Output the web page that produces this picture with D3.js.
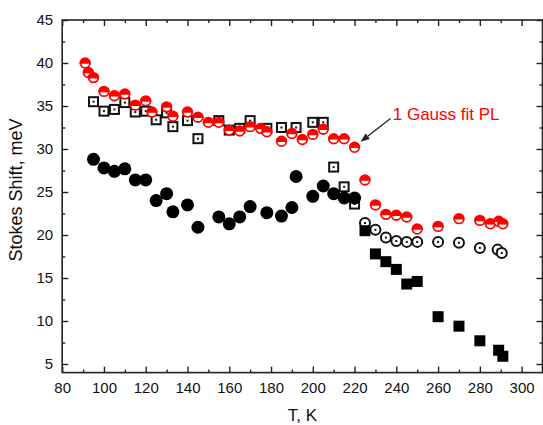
<!DOCTYPE html>
<html>
<head>
<meta charset="utf-8">
<script src="https://cdn.jsdelivr.net/npm/d3@7/dist/d3.min.js"></script>
<style>
  html, body { margin: 0; padding: 0; background: #fff; }
  svg { display: block; font-family: Arial, "Liberation Sans", sans-serif; }
</style>
</head>
<body>
<svg id="chart" width="543" height="425"></svg>
<script>
// Stokes shift vs temperature

// 1 Gauss fit PL (red half-filled circles)
const gaussT = [91, 92.5, 95, 100, 105, 110, 115, 120, 123, 130, 133, 140, 145, 150, 155, 160, 165, 170, 175, 178, 185, 190, 195, 200, 205, 210, 215, 220, 225, 230, 235, 240, 245, 250, 260, 270, 280, 285, 289, 291];
const gaussS = [40.0, 38.9, 38.3, 36.7, 36.2, 36.4, 35.1, 35.6, 34.3, 34.9, 33.8, 34.3, 33.7, 33.1, 33.1, 32.2, 32.1, 32.6, 32.4, 32.0, 30.9, 31.8, 31.1, 31.7, 32.3, 31.2, 31.2, 30.2, 26.4, 23.5, 22.4, 22.3, 22.1, 20.7, 21.0, 21.9, 21.7, 21.3, 21.6, 21.3];

// open squares with centre dot
const openSqT = [95, 100, 105, 110, 115, 120, 125, 130, 133, 140, 145, 155, 160, 165, 170, 178, 185, 192, 200, 205, 210, 215, 220];
const openSqS = [35.5, 34.4, 34.6, 35.4, 34.3, 34.4, 33.4, 34.2, 32.6, 33.3, 31.2, 33.3, 32.2, 32.4, 33.3, 32.4, 32.5, 32.5, 33.1, 33.1, 27.9, 25.6, 23.6];

// filled circles
const fillCircT = [95, 100, 105, 110, 115, 120, 125, 130, 133, 140, 145, 155, 160, 165, 170, 178, 185, 190, 192, 200, 205, 210, 215, 220];
const fillCircS = [28.8, 27.8, 27.4, 27.7, 26.4, 26.4, 24.0, 24.8, 22.7, 23.5, 20.9, 22.1, 21.3, 22.1, 23.3, 22.6, 22.2, 23.2, 26.8, 24.5, 25.7, 24.8, 24.3, 24.3];

// open circles with centre dot
const openCircT = [225, 230, 235, 240, 245, 250, 260, 270, 280, 288.5, 290.5];
const openCircS = [21.4, 20.6, 19.7, 19.3, 19.2, 19.2, 19.2, 19.1, 18.5, 18.3, 17.9];

// filled squares
const fillSqT = [225, 230, 235, 240, 245, 250, 260, 270, 280, 289, 291];
const fillSqS = [20.5, 17.8, 16.9, 16.0, 14.3, 14.6, 10.5, 9.4, 7.7, 6.6, 5.9];

const xMajor = [80, 100, 120, 140, 160, 180, 200, 220, 240, 260, 280, 300];
const yMajor = [5, 10, 15, 20, 25, 30, 35, 40, 45];
const xMinor = [90, 110, 130, 150, 170, 190, 210, 230, 250, 270, 290];
const yMinor = [7.5, 12.5, 17.5, 22.5, 27.5, 32.5, 37.5, 42.5];

const svg = d3.select("#chart");
const plotL = 62.2, plotR = 542.5, plotT = 20, plotB = 372.6;

const x = d3.scaleLinear().domain([80, 310]).range([plotL, plotR]);
const y = d3.scaleLinear().domain([4, 45]).range([plotB, plotT]);

const zip = (a, b) => a.map((v, i) => [v, b[i]]);

// ---- axes: ticks pointing inward on all four sides
const axisStyle = g => {
  g.selectAll(".domain").remove();
  g.selectAll(".tick line").attr("stroke", "#222").attr("stroke-width", 1.4);
  g.selectAll("text").attr("font-size", 15).attr("fill", "#111")
    .attr("font-family", "Arial, 'Liberation Sans', sans-serif");
};

svg.append("g").attr("transform", `translate(0,${plotB})`)
  .call(d3.axisBottom(x).tickValues(xMajor).tickSizeInner(-6).tickSizeOuter(0).tickPadding(10).tickFormat(d3.format("d")))
  .call(axisStyle);
svg.append("g").attr("transform", `translate(0,${plotB})`)
  .call(d3.axisBottom(x).tickValues(xMinor).tickSizeInner(-3).tickSizeOuter(0).tickFormat(""))
  .call(axisStyle);
svg.append("g").attr("transform", `translate(0,${plotT})`)
  .call(d3.axisTop(x).tickValues(xMajor).tickSizeInner(-6).tickSizeOuter(0).tickFormat(""))
  .call(axisStyle);
svg.append("g").attr("transform", `translate(0,${plotT})`)
  .call(d3.axisTop(x).tickValues(xMinor).tickSizeInner(-3).tickSizeOuter(0).tickFormat(""))
  .call(axisStyle);

svg.append("g").attr("transform", `translate(${plotL},0)`)
  .call(d3.axisLeft(y).tickValues(yMajor).tickSizeInner(-6).tickSizeOuter(0).tickPadding(9).tickFormat(d3.format("d")))
  .call(axisStyle);
svg.append("g").attr("transform", `translate(${plotL},0)`)
  .call(d3.axisLeft(y).tickValues(yMinor).tickSizeInner(-3).tickSizeOuter(0).tickFormat(""))
  .call(axisStyle);
svg.append("g").attr("transform", `translate(${plotR},0)`)
  .call(d3.axisRight(y).tickValues(yMajor).tickSizeInner(-6).tickSizeOuter(0).tickFormat(""))
  .call(axisStyle);
svg.append("g").attr("transform", `translate(${plotR},0)`)
  .call(d3.axisRight(y).tickValues(yMinor).tickSizeInner(-3).tickSizeOuter(0).tickFormat(""))
  .call(axisStyle);

// frame
svg.append("rect")
  .attr("x", plotL).attr("y", plotT)
  .attr("width", plotR - plotL).attr("height", plotB - plotT)
  .attr("fill", "none").attr("stroke", "#222").attr("stroke-width", 1.6);

// axis titles
svg.append("text")
  .attr("x", (plotL + plotR) / 2).attr("y", 421)
  .attr("text-anchor", "middle").attr("font-size", 17).attr("fill", "#111")
  .text("T, K");
svg.append("text")
  .attr("transform", "translate(22,190) rotate(-90)")
  .attr("text-anchor", "middle").attr("font-size", 18).attr("fill", "#111")
  .text("Stokes Shift, meV");

const plot = svg.append("g");

// open squares with centre dot
const sqSize = 11;
const osq = plot.selectAll("g.osq").data(zip(openSqT, openSqS)).join("g")
  .attr("transform", d => `translate(${x(d[0])},${y(d[1])})`);
osq.append("rect").attr("x", -sqSize / 2 + 1).attr("y", -sqSize / 2 + 1)
  .attr("width", sqSize - 2).attr("height", sqSize - 2)
  .attr("fill", "#fff").attr("stroke", "#111").attr("stroke-width", 2);
osq.append("rect").attr("x", -1).attr("y", -1).attr("width", 2).attr("height", 2).attr("fill", "#111");

// red half-filled circles
const rr = 5.6;
const red = plot.selectAll("g.red").data(zip(gaussT, gaussS)).join("g")
  .attr("transform", d => `translate(${x(d[0])},${y(d[1])})`);
red.append("circle").attr("r", rr - 0.8).attr("fill", "#fff").attr("stroke", "#f00").attr("stroke-width", 1.8);
red.append("path")
  .attr("d", `M${-rr},0.8 A${rr},${rr} 0 0 1 ${rr},0.8 Z`)
  .attr("fill", "#f00");

// filled circles
plot.selectAll("circle.fc").data(zip(fillCircT, fillCircS)).join("circle")
  .attr("cx", d => x(d[0])).attr("cy", d => y(d[1]))
  .attr("r", 6.5).attr("fill", "#000");

// open circles with centre dot
const oc = plot.selectAll("g.oc").data(zip(openCircT, openCircS)).join("g")
  .attr("transform", d => `translate(${x(d[0])},${y(d[1])})`);
oc.append("circle").attr("r", 5).attr("fill", "#fff").attr("stroke", "#111").attr("stroke-width", 2);
oc.append("rect").attr("x", -1).attr("y", -1).attr("width", 2).attr("height", 2).attr("fill", "#111");

// filled squares
plot.selectAll("rect.fs").data(zip(fillSqT, fillSqS)).join("rect")
  .attr("x", d => x(d[0]) - sqSize / 2).attr("y", d => y(d[1]) - sqSize / 2)
  .attr("width", sqSize).attr("height", sqSize).attr("fill", "#000");

// annotation arrow pointing at the 220 K point
const arrowFrom = [237.2, 33.55], arrowTo = [222.9, 30.85];
const ax1 = x(arrowFrom[0]), ay1 = y(arrowFrom[1]), ax2 = x(arrowTo[0]), ay2 = y(arrowTo[1]);
const ang = Math.atan2(ay2 - ay1, ax2 - ax1);
const headLen = 9, headW = 3.5;
const bx = ax2 - headLen * Math.cos(ang), by = ay2 - headLen * Math.sin(ang);
svg.append("line").attr("x1", ax1).attr("y1", ay1).attr("x2", bx).attr("y2", by)
  .attr("stroke", "#222").attr("stroke-width", 1.3);
svg.append("path")
  .attr("d", `M${ax2},${ay2} L${bx + headW * Math.sin(ang)},${by - headW * Math.cos(ang)} L${bx - headW * Math.sin(ang)},${by + headW * Math.cos(ang)} Z`)
  .attr("fill", "#222");

svg.append("text")
  .attr("x", x(238.3)).attr("y", y(33.4))
  .attr("font-size", 17).attr("fill", "#f00")
  .text("1 Gauss fit PL");
</script>
</body>
</html>
